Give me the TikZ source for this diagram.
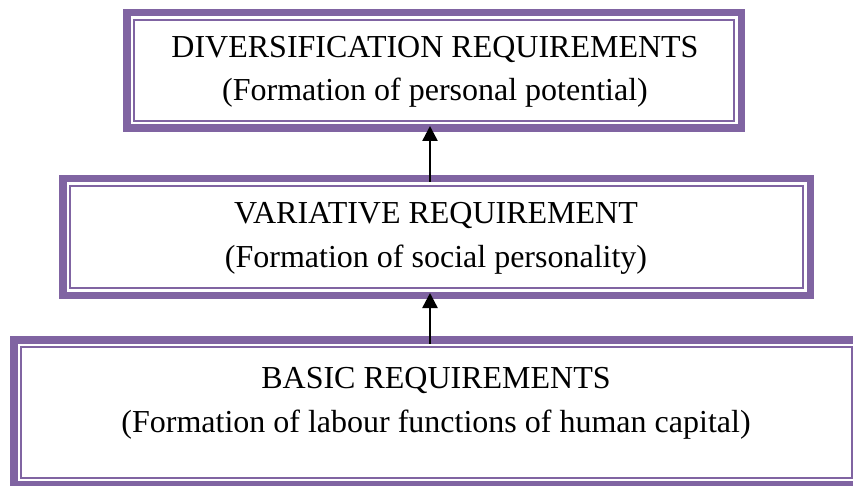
\documentclass[tikz,border=0pt]{standalone}
\usepackage{fontspec}
\setmainfont{Liberation Serif}
\usetikzlibrary{arrows.meta}
\definecolor{boxpurple}{RGB}{128,100,162}
\tikzset{
  tierbox/.style={draw=boxpurple, line width=7.5pt, rectangle, outer sep=0pt, inner sep=0pt},
  innerline/.style={draw=boxpurple, line width=2pt},
  tiertext/.style={align=center, font=\fontsize{32}{43.4}\selectfont, inner sep=0pt},
  uparrow/.style={draw=black, line width=2.5pt, -{Triangle[width=15pt,length=15pt]}}
}
\begin{document}
\begin{tikzpicture}[x=1pt,y=-1pt]
\useasboundingbox (0,0) rectangle (853,486);
\node[tierbox, minimum width=614.5pt, minimum height=115.5pt] (b1) at (434,70.5) {};
\node[tierbox, minimum width=747.5pt, minimum height=116.5pt] (b2) at (436.5,237) {};
\node[tierbox, minimum width=845pt, minimum height=145pt] (b3) at (436.25,412.25) {};
\foreach \b in {b1,b2,b3}{
  \draw[innerline] ([xshift=7.25pt,yshift=-7.25pt]\b.north west) rectangle ([xshift=-7.25pt,yshift=7.25pt]\b.south east);
}
\node[tiertext] (t1) at (435,72) {DIVERSIFICATION REQUIREMENTS\\(Formation of personal potential)};
\node[tiertext] (t2) at (436,238.5) {VARIATIVE REQUIREMENT\\(Formation of social personality)};
\node[tiertext] (t3) at (436,403.5) {BASIC REQUIREMENTS\\(Formation of labour functions of human capital)};
\draw[uparrow] ([xshift=-6.5pt,yshift=-3.25pt]b2.north) -- ([xshift=-4pt,yshift=2.25pt]b1.south);
\draw[uparrow] ([xshift=-6.25pt,yshift=-3.75pt]b3.north) -- ([xshift=-6.5pt,yshift=2.25pt]b2.south);
\end{tikzpicture}
\end{document}
